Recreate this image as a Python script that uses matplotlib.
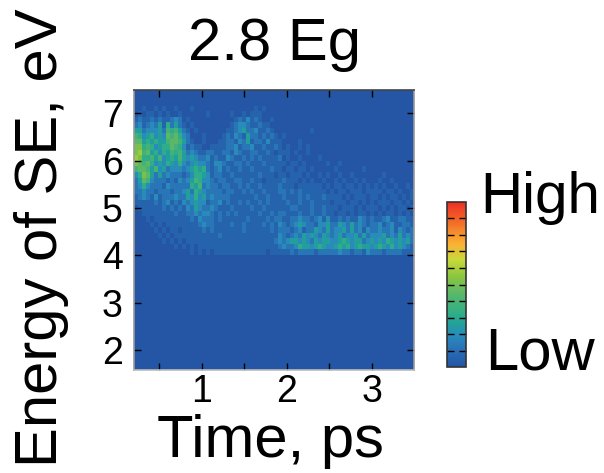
import numpy as np
import matplotlib
matplotlib.use('Agg')
import matplotlib.pyplot as plt
from matplotlib.colors import LinearSegmentedColormap
from matplotlib.cm import ScalarMappable
from matplotlib.colors import Normalize

plt.rcParams['font.family'] = ['Liberation Sans', 'DejaVu Sans']

# intensity, one digit per cell, top row = highest energy
intensity_rows = [
    '0000000000 0000000000 0000000000 0000000000 0000000000 0000000000 0000000000',
    '0000000000 0000000000 0000000000 0000000000 0000000000 0000000000 0000000000',
    '0000000000 0000000000 0000000000 0000000000 0000000000 0000000000 0000000000',
    '0010010100 1000100000 0000000000 1010000000 0000000000 0000000000 0000000000',
    '0101101010 0100000010 0000100101 1100000000 0000000000 0000000000 0000000000',
    '1211212112 3201000000 0000012131 2100100000 0000000000 0000000000 0000000000',
    '2312324152 4210100000 0000123321 1211000000 0000000000 0000000000 0000000000',
    '4423334265 6421010000 0001123422 3112100000 0000100000 0000000000 0000000000',
    '6534534376 7532000100 0012132142 2121210100 0000000000 0000000000 0000000000',
    '7745454467 7642100100 0112213241 2213111000 0100000000 0000000000 0000000000',
    '8856534557 6531211001 1112231223 1121121010 0101000000 0000000000 0000000000',
    '8967453546 5642321122 1122132112 2112101110 1001000000 0000000000 0000000000',
    '9855646345 4643432231 2113211212 1211112010 0100001000 0000000000 0000000000',
    '8767534354 3532343321 3321122121 1121111101 1010000010 0100000000 0000000000',
    '6776463423 3323454521 2312112112 1111211011 0110100000 1000000100 0000000000',
    '3587424232 2212355431 2211211111 1211101101 1101001010 0100100000 0010000000',
    '2476322212 1323465332 1221122112 1101111211 1010100100 1010010100 0100100000',
    '2353222132 2222546232 2122112121 1211112111 0111111010 1101101010 1010010010',
    '2232212221 2234254322 2212211212 1121112212 1211111101 0110111011 1101101001',
    '1232131222 3224353423 2222111111 2112111211 1212111211 1101011101 1010110101',
    '1111121231 2132343312 2312112121 1212111121 1211211110 1110110101 0111011010',
    '0111111212 1213243223 2111211112 1121111112 2111211211 1011101011 1010101101',
    '0011111111 2112232332 1212121111 1211212211 1211211211 0110101101 0101101010',
    '0001011111 1111213222 1211111121 1112122112 2322123131 1212113212 1123112211',
    '0000101011 1111112322 1111211211 1121213212 3432213342 2432423212 2312311221',
    '0000010101 1011111212 1111111211 1111212221 2312243242 3342423132 2322313212',
    '0000001010 1111111111 1211111111 1111113212 3243432432 3423342423 3342324232',
    '0000000101 0101111111 1111111111 1111123234 4343243443 3454344234 3435434342',
    '0000000000 1010101111 1111111111 1111112322 3544345433 4545345443 4543534321',
    '0000000000 0000101010 1111111111 1110111112 1222212222 2322122132 2212222111',
]
digit_scale = 0.58 / 9

time_range = [0.2, 3.49]
energy_range = [1.59, 7.49]
map_floor = 4.0
x_ticks = [0.5, 1, 1.5, 2, 2.5, 3]
x_labels = ['', '1', '', '2', '', '3']
y_ticks = [2, 3, 4, 5, 6, 7]

stops = [(0.0, '#2456a5'), (0.064, '#2764ae'), (0.129, '#2a78b8'), (0.193, '#288cba'),
         (0.258, '#22a09c'), (0.322, '#2fae88'), (0.45, '#5cb868'), (0.55, '#8cc63f'),
         (0.65, '#c8d93a'), (0.75, '#fbb034'), (0.85, '#f47b2a'), (1.0, '#ee2e24')]
cmap = LinearSegmentedColormap.from_list('se', stops)

grid = np.array([[int(c) for c in row.replace(' ', '')] for row in intensity_rows]) * digit_scale

fig = plt.figure(figsize=(6.04, 4.73), dpi=100)
ax = fig.add_axes([134 / 604, 1 - 369.5 / 473, 279.5 / 604, 279.5 / 473])
ax.set_facecolor(cmap(0.0))
ax.imshow(grid, cmap=cmap, vmin=0, vmax=1, aspect='auto', interpolation='nearest',
          extent=[time_range[0], time_range[1], map_floor, energy_range[1]])
ax.set_xlim(time_range)
ax.set_ylim(energy_range)
ax.set_xticks(x_ticks)
ax.set_xticklabels(x_labels)
ax.set_yticks(y_ticks)
ax.tick_params(direction='in', top=True, right=True, length=5, width=1, labelsize=27, pad=8)
ax.tick_params(axis='x', pad=3)
for name, col in [('top', '#444444'), ('right', '#999999'), ('left', '#999999'), ('bottom', '#bbbbbb')]:
    ax.spines[name].set_color(col)
    ax.spines[name].set_linewidth(1.2)

fig.text(274 / 604, 1 - 44 / 473, '2.8 Eg', fontsize=43, ha='center', va='center')
fig.text(270 / 604, 1 - 441 / 473, 'Time, ps', fontsize=43, ha='center', va='center')
fig.text(42 / 604, 1 - 238 / 473, 'Energy of SE, eV', fontsize=43, rotation=90, ha='center', va='center')

# legend bar
cax = fig.add_axes([447 / 604, 1 - 367 / 473, 19 / 604, 165 / 473])
cb = fig.colorbar(ScalarMappable(Normalize(0, 1), cmap), cax=cax)
cb.set_ticks(np.arange(0.1, 0.95, 0.1))
cb.set_ticklabels([])
cax.tick_params(direction='in', left=True, right=True, length=5, width=1, which='major')
cb.outline.set_edgecolor('#333333')
cb.outline.set_linewidth(1.2)

fig.text(540 / 604, 1 - 198 / 473, 'High', fontsize=42, ha='center', va='center')
fig.text(540 / 604, 1 - 354 / 473, 'Low', fontsize=43, ha='center', va='center')

fig.savefig('out.png', dpi=100)
